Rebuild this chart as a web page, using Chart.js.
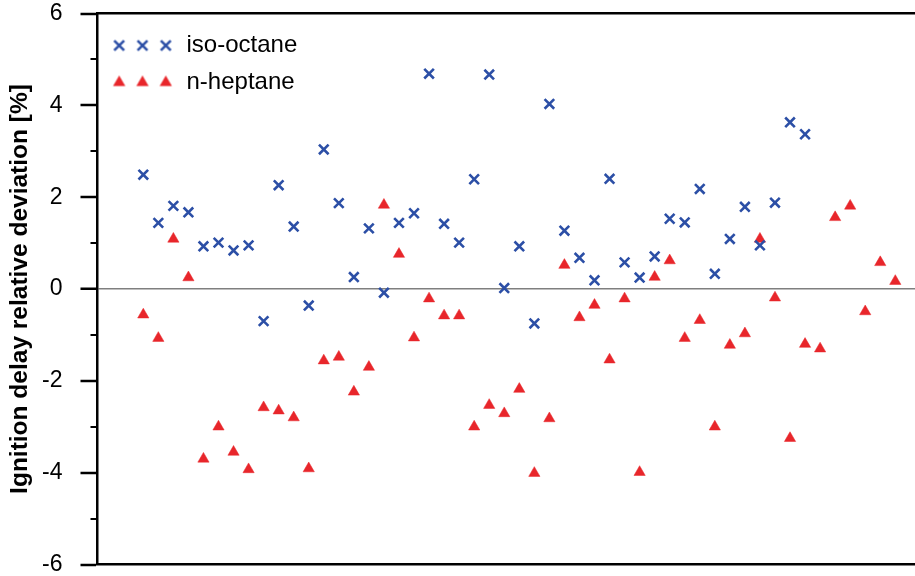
<!DOCTYPE html>
<html>
<head>
<meta charset="utf-8">
<script src="https://cdn.jsdelivr.net/npm/chart.js@4.4.1/dist/chart.umd.min.js"></script>
<style>
html,body{margin:0;padding:0;background:#fff;overflow:hidden}
#wrap{position:relative;width:915px;height:576px}
canvas{display:block}
</style>
</head>
<body>
<div id="wrap"><canvas id="c" width="915" height="576"></canvas></div>
<script>
// ---- data ----
const caseNumbers = [1,2,3,4,5,6,7,8,9,10,11,12,13,14,15,16,17,18,19,20,21,22,23,24,25,26,27,28,29,30,31,32,33,34,35,36,37,38,39,40,41,42,43,44,45,46,47,48,49,50,51];
const isoOctane = [2.49,1.44,1.81,1.67,0.93,1.01,0.84,0.95,-0.70,2.26,1.36,-0.36,3.04,
  1.87,0.26,1.32,-0.08,1.44,1.65,4.69,1.42,1.01,2.39,4.67,0.02,0.93,
  -0.75,4.03,1.27,0.68,0.19,2.40,0.58,0.25,0.71,1.53,1.45,2.18,0.33,
  1.09,1.79,0.95,1.88,3.63,3.37];
const nHeptane = [-0.56,-1.07,1.09,0.25,-3.70,-3.00,-3.55,-3.93,-2.58,-2.65,-2.80,-3.91,-1.56,
  -1.48,-2.24,-1.70,1.83,0.76,-1.06,-0.21,-0.58,-0.58,-3.00,-2.53,-2.71,-2.18,
  -4.01,-2.82,0.52,-0.62,-0.35,-1.54,-0.21,-3.99,0.26,0.62,-1.07,-0.68,-3.00,
  -1.22,-0.97,1.09,-0.19,-3.25,-1.20,-1.30,1.56,1.81,-0.49,0.58,0.17];
const seriesNames = ['iso-octane','n-heptane'];
const yMajorTicks = [-6,-4,-2,0,2,4,6];
const yMinorTicks = [-5,-3,-1,1,3,5];
const yTitle = 'Ignition delay relative deviation [%]';

const BLUE = '#2c4fa6';
const RED = '#e8262b';
const FONT = "'Liberation Sans', Arial, Helvetica, sans-serif";

Chart.defaults.font.family = FONT;
Chart.defaults.color = '#000';

function toPoints(xs, ys){ return ys.map((v,i)=>({x: xs[i], y: v})); }

// legend swatch: three markers in a row
function legendSwatch(style, color, radius, bw){
  const cv = document.createElement('canvas');
  cv.width = 64; cv.height = 20;
  const g = cv.getContext('2d');
  g.fillStyle = color; g.strokeStyle = color; g.lineWidth = bw;
  [8.7, 32, 55.3].forEach(cx => {
    Chart.helpers.drawPoint(g, {pointStyle: style, radius: radius, borderWidth: bw, rotation: 0}, cx, 10);
  });
  return cv;
}
const swatches = [legendSwatch('crossRot', BLUE, 7, 2.5), legendSwatch('triangle', RED, 6.6, 0.5)];

const minorTickPlugin = {
  id: 'minorTicks',
  afterDraw(chart){
    const s = chart.scales.y, ctx = chart.ctx;
    ctx.save();
    ctx.strokeStyle = '#000'; ctx.lineWidth = 2;
    yMinorTicks.forEach(v => {
      const py = Math.round(s.getPixelForValue(v));
      ctx.beginPath(); ctx.moveTo(s.right - 7, py); ctx.lineTo(s.right, py); ctx.stroke();
    });
    ctx.restore();
  }
};

const X_MIN = -2.045, X_MAX = 52.31;
function flatX(s){ s.height = 0; s.paddingLeft = 0; s.paddingRight = 0; s.paddingTop = 0; s.paddingBottom = 0; }

new Chart(document.getElementById('c'), {
  type: 'scatter',
  data: {
    datasets: [
      { label: seriesNames[0], data: toPoints(caseNumbers, isoOctane),
        pointStyle: 'crossRot', pointRadius: 6.8, pointHoverRadius: 6.8,
        pointBorderColor: BLUE, pointBackgroundColor: BLUE, pointBorderWidth: 2.6,
        borderColor: BLUE, backgroundColor: BLUE, borderWidth: 0 },
      { label: seriesNames[1], data: toPoints(caseNumbers, nHeptane),
        pointStyle: 'triangle', pointRadius: 6.5, pointHoverRadius: 6.5,
        pointBorderColor: RED, pointBackgroundColor: RED, pointBorderWidth: 0.5,
        borderColor: RED, backgroundColor: RED, borderWidth: 0 }
    ]
  },
  options: {
    responsive: false,
    animation: false,
    devicePixelRatio: 1,
    layout: { autoPadding: false, padding: { left: 0, right: 0, top: 13.5, bottom: 11.5 } },
    plugins: {
      tooltip: { enabled: false },
      legend: {
        position: 'chartArea',
        align: 'start',
        title: { display: true, text: '', padding: 0, font: { size: 20.5, lineHeight: 1 } },
        labels: {
          usePointStyle: true,
          pointStyleWidth: 64,
          padding: 13,
          color: '#000',
          font: { size: 24 },
          generateLabels(chart){
            return chart.data.datasets.map((d,i)=>({
              text: d.label, pointStyle: swatches[i], fillStyle: d.backgroundColor,
              strokeStyle: d.borderColor, lineWidth: 0, hidden: false, datasetIndex: i, fontColor: '#000'
            }));
          }
        }
      }
    },
    scales: {
      x: {
        type: 'linear', position: 'bottom', min: X_MIN, max: X_MAX, bounds: 'data',
        afterFit: flatX,
        grid: { display: false, drawTicks: false },
        ticks: { display: false },
        border: { display: true, color: '#000', width: 2.5 }
      },
      x2: {
        type: 'linear', axis: 'x', position: 'top', min: X_MIN, max: X_MAX, bounds: 'data',
        afterFit: flatX,
        grid: { display: false, drawTicks: false },
        ticks: { display: false },
        border: { display: true, color: '#000', width: 2.5 }
      },
      y: {
        type: 'linear', min: -6, max: 6,
        afterFit(s){ s.width = 97.5; s.paddingTop = 0; s.paddingBottom = 0; },
        border: { display: true, color: '#000', width: 2.5 },
        grid: {
          drawOnChartArea: true, drawTicks: true, tickLength: 17, tickWidth: 2.5,
          color: c => (c.tick && c.tick.value === 0) ? '#7f7f7f' : 'rgba(0,0,0,0)',
          lineWidth: c => (c.tick && c.tick.value === 0) ? 1.5 : 0,
          tickColor: c => (c.tick && yMajorTicks.includes(c.tick.value)) ? '#000' : 'rgba(0,0,0,0)'
        },
        ticks: {
          stepSize: 1, autoSkip: false, padding: 18, color: '#000',
          font: { size: 23, lineHeight: 1 },
          callback: v => yMajorTicks.includes(v) ? String(v) : ''
        },
        title: {
          display: true, text: yTitle, color: '#000',
          font: { size: 24.5, weight: 'bold', lineHeight: 1.2 },
          padding: { top: 5.5, bottom: 0 }
        }
      }
    }
  },
  plugins: [minorTickPlugin]
});
</script>
</body>
</html>
